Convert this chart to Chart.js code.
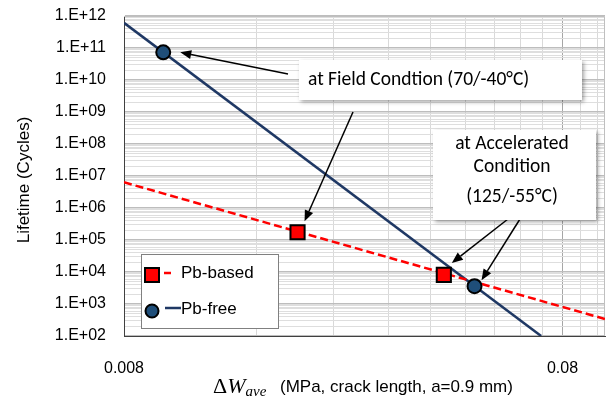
<!DOCTYPE html>
<html>
<head>
<meta charset="utf-8">
<script src="https://cdn.jsdelivr.net/npm/chart.js@4.4.1/dist/chart.umd.min.js"></script>
<style>
  html, body { margin: 0; padding: 0; background: #fff; overflow: hidden; }
  #wrap { width: 606px; height: 398px; position: relative; }
</style>
</head>
<body>
<div id="wrap"><canvas id="chart" width="606" height="398"></canvas></div>
<script>
const pbBasedX = [0.0199, 0.0429];
const pbBasedY = [1.74e5, 8.1e3];
const pbFreeX = [0.00983, 0.0504];
const pbFreeY = [7.3e10, 3.6e3];

// fitted trend lines, end points
const pbBasedLineX = [0.008, 0.1];
const pbBasedLineY = [6.35e6, 340];
const pbFreeLineX = [0.008, 0.0715];
const pbFreeLineY = [6.1e11, 100];

// axis ticks
const yTickValues = [1e2, 1e3, 1e4, 1e5, 1e6, 1e7, 1e8, 1e9, 1e10, 1e11, 1e12];
const yTickLabels = ['1.E+02', '1.E+03', '1.E+04', '1.E+05', '1.E+06', '1.E+07',
  '1.E+08', '1.E+09', '1.E+10', '1.E+11', '1.E+12'];
const xTickValues = [0.008, 0.08];
const xTickLabels = ['0.008', '0.08'];
const xGridValues = [0.008, 0.016, 0.024, 0.032, 0.04, 0.048, 0.056, 0.064, 0.072, 0.08, 0.088, 0.096];

const seriesNames = ['Pb-based', 'Pb-free'];

const RED = '#ff0000';
const NAVY = '#1f3864';
const DOT = '#1f4e79';

// plot area in pixels, as in the reference
const AREA = { left: 124, top: 16, right: 605, bottom: 336 };

// minor log gridlines 2..9 inside each decade
const yMinorValues = [];
yTickValues.slice(0, -1).forEach(d => {
  for (let k = 2; k <= 9; k++) yMinorValues.push(d * k);
});

function pts(xs, ys) {
  return xs.map((x, i) => ({ x: x, y: ys[i] }));
}

const SANS = '"Liberation Sans", Arial, sans-serif';
const CALLOUT_FONT = '19.5px Carlito, Lato, "Open Sans", sans-serif';

// callouts: box layout in pixels, arrows point at a data point
const callouts = [
  { x: 299, y: 60, w: 283, h: 40, align: 'left', tx: 308,
    lines: ['at Field Condtion (70/-40°C)'], ly: [80] },
  { x: 433, y: 130, w: 163, h: 90, align: 'center', tx: 512,
    lines: ['at Accelerated', 'Condition', '(125/-55°C)'], ly: [144, 167, 197] }
];
const arrows = [
  { from: [288, 74], ds: 1, idx: 0, off: [17, 0] },
  { from: [353, 112], ds: 0, idx: 0, off: [7, -11] },
  { from: [508, 219], ds: 0, idx: 1, off: [8, -12] },
  { from: [520, 219], ds: 1, idx: 1, off: [7, -6] }
];

function drawArrow(ctx, x1, y1, x2, y2) {
  const a = Math.atan2(y2 - y1, x2 - x1);
  const len = 11, hw = 4.5;
  const bx = x2 - len * Math.cos(a), by = y2 - len * Math.sin(a);
  ctx.beginPath();
  ctx.moveTo(x1, y1);
  ctx.lineTo(bx, by);
  ctx.stroke();
  ctx.beginPath();
  ctx.moveTo(x2, y2);
  ctx.lineTo(bx + hw * Math.sin(a), by - hw * Math.cos(a));
  ctx.lineTo(bx - hw * Math.sin(a), by + hw * Math.cos(a));
  ctx.closePath();
  ctx.fill();
}

// pin the plot area after chart.js has laid the boxes out
const pinAreaPlugin = {
  id: 'pinArea',
  afterLayout(chart) {
    const { x, y } = chart.scales;
    chart.chartArea = {
      left: AREA.left, top: AREA.top, right: AREA.right, bottom: AREA.bottom,
      width: AREA.right - AREA.left, height: AREA.bottom - AREA.top
    };
    x.left = AREA.left; x.right = AREA.right; x.width = AREA.right - AREA.left;
    x.top = AREA.bottom; x.bottom = chart.height; x.height = x.bottom - x.top;
    x.configure();
    y.top = AREA.top; y.bottom = AREA.bottom; y.height = AREA.bottom - AREA.top;
    y.left = 0; y.right = AREA.left; y.width = AREA.left;
    y.configure();
  }
};

const decorPlugin = {
  id: 'decor',
  beforeDatasetsDraw(chart) {
    const { ctx, chartArea: a } = chart;
    ctx.save();
    ctx.strokeStyle = '#bfbfbf';
    ctx.lineWidth = 1;
    ctx.beginPath();
    ctx.moveTo(a.left, a.top + 0.5);
    ctx.lineTo(a.right - 0.5, a.top + 0.5);
    ctx.lineTo(a.right - 0.5, a.bottom);
    ctx.stroke();
    ctx.restore();
  },
  afterDatasetsDraw(chart) {
    const { ctx } = chart;
    ctx.save();

    // arrows
    ctx.strokeStyle = '#000';
    ctx.fillStyle = '#000';
    ctx.lineWidth = 1.5;
    arrows.forEach(ar => {
      const p = chart.getDatasetMeta(ar.ds).data[ar.idx];
      drawArrow(ctx, ar.from[0], ar.from[1], p.x + ar.off[0], p.y + ar.off[1]);
    });

    // callout boxes
    callouts.forEach(c => {
      ctx.save();
      ctx.shadowColor = 'rgba(0,0,0,0.35)';
      ctx.shadowBlur = 4;
      ctx.shadowOffsetX = 2;
      ctx.shadowOffsetY = 2;
      ctx.fillStyle = '#fff';
      ctx.fillRect(c.x, c.y, c.w, c.h);
      ctx.restore();
      ctx.fillStyle = '#000';
      ctx.font = CALLOUT_FONT;
      ctx.textAlign = c.align;
      ctx.textBaseline = 'middle';
      c.lines.forEach((t, i) => ctx.fillText(t, c.tx, c.ly[i]));
    });

    // legend
    ctx.fillStyle = '#fff';
    ctx.fillRect(141, 254, 137, 74);
    ctx.strokeStyle = '#808080';
    ctx.lineWidth = 1;
    ctx.strokeRect(141.5, 254.5, 137, 74);

    ctx.fillStyle = RED;
    ctx.strokeStyle = '#000';
    ctx.lineWidth = 2;
    ctx.fillRect(145, 268, 14, 14);
    ctx.strokeRect(145, 268, 14, 14);
    ctx.strokeStyle = RED;
    ctx.lineWidth = 2.5;
    ctx.beginPath();
    ctx.moveTo(164, 273);
    ctx.lineTo(171, 273);
    ctx.stroke();

    ctx.fillStyle = DOT;
    ctx.strokeStyle = '#000';
    ctx.lineWidth = 2;
    ctx.beginPath();
    ctx.arc(152, 311, 6.5, 0, Math.PI * 2);
    ctx.fill();
    ctx.stroke();
    ctx.strokeStyle = NAVY;
    ctx.lineWidth = 2.5;
    ctx.beginPath();
    ctx.moveTo(165, 308);
    ctx.lineTo(181, 308);
    ctx.stroke();

    ctx.fillStyle = '#000';
    ctx.font = '17px ' + SANS;
    ctx.textAlign = 'left';
    ctx.textBaseline = 'middle';
    ctx.fillText(seriesNames[0], 181, 273);
    ctx.fillText(seriesNames[1], 181, 309);

    // y axis title
    ctx.save();
    ctx.translate(24, 180);
    ctx.rotate(-Math.PI / 2);
    ctx.font = '17px ' + SANS;
    ctx.textAlign = 'center';
    ctx.textBaseline = 'middle';
    ctx.fillText('Lifetime (Cycles)', 0, 0);
    ctx.restore();

    // x axis title: ΔW_ave (MPa, crack length, a=0.9 mm)
    ctx.textAlign = 'left';
    ctx.textBaseline = 'alphabetic';
    let x = 213;
    ctx.font = '22px "Liberation Serif", "Times New Roman", serif';
    ctx.fillText('Δ', x, 393);
    x += ctx.measureText('Δ').width;
    ctx.font = 'italic 22px "Liberation Serif", "Times New Roman", serif';
    ctx.fillText('W', x, 393);
    x += ctx.measureText('W').width;
    ctx.font = 'italic 15px "Liberation Serif", "Times New Roman", serif';
    ctx.fillText('ave', x, 396);
    ctx.font = '17px ' + SANS;
    ctx.fillText('(MPa, crack length, a=0.9 mm)', 280, 392);

    ctx.restore();
  }
};

const chart = new Chart(document.getElementById('chart'), {
  type: 'scatter',
  data: {
    datasets: [
      {
        label: seriesNames[0],
        data: pts(pbBasedX, pbBasedY),
        pointStyle: 'rect',
        pointRadius: 10,
        backgroundColor: RED,
        borderColor: '#000',
        borderWidth: 2
      },
      {
        label: seriesNames[1],
        data: pts(pbFreeX, pbFreeY),
        pointStyle: 'circle',
        pointRadius: 7,
        backgroundColor: DOT,
        borderColor: '#000',
        borderWidth: 2
      },
      {
        label: seriesNames[0] + ' fit',
        data: pts(pbBasedLineX, pbBasedLineY),
        showLine: true,
        pointRadius: 0,
        borderColor: RED,
        borderWidth: 2.5,
        borderDash: [8, 4]
      },
      {
        label: seriesNames[1] + ' fit',
        data: pts(pbFreeLineX, pbFreeLineY),
        showLine: true,
        pointRadius: 0,
        borderColor: NAVY,
        borderWidth: 2.5
      }
    ]
  },
  options: {
    responsive: false,
    animation: false,
    devicePixelRatio: 1,
    layout: { padding: { top: 16, right: 1, left: 0, bottom: 0 } },
    plugins: { legend: { display: false }, tooltip: { enabled: false } },
    scales: {
      x: {
        type: 'logarithmic',
        min: 0.008,
        max: 0.1,
        afterBuildTicks: s => {
          s.ticks = xGridValues.map(v => ({ value: v, major: xTickValues.includes(v) }));
        },
        afterFit: s => { s.height = 62; s.paddingLeft = 0; s.paddingRight = 0; },
        ticks: {
          autoSkip: false,
          maxRotation: 0,
          padding: 23,
          color: '#000',
          font: { family: SANS, size: 16 },
          callback: v => {
            const i = xTickValues.indexOf(v);
            return i >= 0 ? xTickLabels[i] : '';
          }
        },
        grid: {
          drawTicks: false,
          color: c => (c.tick && c.tick.major ? '#a6a6a6' : '#d9d9d9'),
          lineWidth: 1
        },
        border: { color: '#404040', width: 1 }
      },
      y: {
        type: 'logarithmic',
        min: 1e2,
        max: 1e12,
        afterBuildTicks: s => {
          s.ticks = [...yTickValues, ...yMinorValues]
            .sort((a, b) => a - b)
            .map(v => ({ value: v, major: yTickValues.includes(v) }));
        },
        afterFit: s => { s.width = 124; s.paddingTop = 0; s.paddingBottom = 0; },
        ticks: {
          autoSkip: false,
          padding: 18,
          color: '#000',
          font: { family: SANS, size: 16 },
          callback: v => {
            const i = yTickValues.indexOf(v);
            return i >= 0 ? yTickLabels[i] : '';
          }
        },
        grid: {
          drawTicks: false,
          color: c => (c.tick && c.tick.major ? '#bdbdbd' : '#dedede'),
          lineWidth: c => (c.tick && c.tick.major ? 1.5 : 1)
        },
        border: { color: '#404040', width: 1 }
      }
    }
  },
  plugins: [pinAreaPlugin, decorPlugin]
});
</script>
</body>
</html>
